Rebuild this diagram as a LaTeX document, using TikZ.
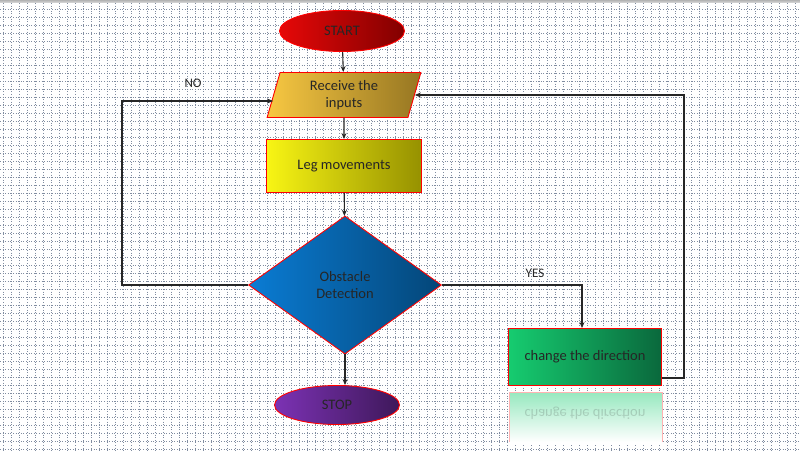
\documentclass[tikz,border=0pt]{standalone}
\usepackage{fontspec}
\setmainfont{Carlito}
\usetikzlibrary{shapes.geometric,arrows.meta}
\definecolor{startL}{RGB}{230,8,8}
\definecolor{startR}{RGB}{130,0,0}
\definecolor{inputL}{RGB}{248,200,66}
\definecolor{inputR}{RGB}{150,118,34}
\definecolor{legL}{RGB}{248,245,20}
\definecolor{legR}{RGB}{150,145,0}
\definecolor{detectL}{RGB}{10,124,212}
\definecolor{detectR}{RGB}{4,70,120}
\definecolor{stopL}{RGB}{124,50,180}
\definecolor{stopR}{RGB}{62,24,90}
\definecolor{changeL}{RGB}{22,204,112}
\definecolor{changeR}{RGB}{10,104,60}
\definecolor{gridcol}{RGB}{128,140,160}

\begin{document}
\begin{tikzpicture}[x=1pt,y=-1pt,
		griddot/.style={draw=gridcol,line width=0.6pt,dash pattern=on 0.8pt off 1.8pt},
		box/.style={draw=red,line width=0.9pt,font=\fontsize{14.5}{17.5}\selectfont,text=black!85,align=center,inner sep=0pt},
		term/.style={box,ellipse,minimum width=125,minimum height=41},
		arr/.style={draw=black!85,line width=1.1pt,-{Stealth[length=6pt,width=5pt]}},
		tag/.style={font=\fontsize{13}{15}\selectfont,text=black!85}]
	\useasboundingbox (0,0) rectangle (800,452);
	\fill[white] (0,0) rectangle (800,452);
	\foreach \x in {3,11,...,795} \draw[griddot] (\x,3) -- (\x,452);
	\foreach \y in {9,17,...,449} \draw[griddot] (0,\y) -- (800,\y);
	\fill[top color=gray!60,bottom color=gray!25] (0,0) rectangle (800,3);

	\node[term,left color=startL,right color=startR] (start) at (342,31) {START};
	\node[box,trapezium,trapezium left angle=77,trapezium right angle=103,trapezium stretches=true,
		minimum width=154,minimum height=45,left color=inputL,right color=inputR] (input) at (344,95) {Receive the\\inputs};
	\node[box,minimum width=155,minimum height=53,left color=legL,right color=legR] (leg) at (344,166) {Leg movements};
	\node[box,diamond,minimum width=193,minimum height=138,left color=detectL,right color=detectR] (detect) at (345,285) {Obstacle\\Detection};
	\node[term,minimum height=39,left color=stopL,right color=stopR] (stop) at (337,405) {STOP};
	\node[box,minimum width=153,minimum height=57,left color=changeL,right color=changeR] (change) at (585,357) {change the direction};

	\fill[top color=changeL!45,bottom color=white] (509,392) rectangle (662,442);
	\draw[red!30,line width=0.8pt] (509,442) -- (509,392) -- (662,392) -- (662,442);
	\node[font=\fontsize{14.5}{17.5}\selectfont,text=black!85,opacity=0.18,yscale=-1] (mirror) at (585,413) {change the direction};

	\draw[arr] (start) -- (input);
	\draw[arr] (input) -- (leg);
	\draw[arr] (leg) -- (detect);
	\draw[arr] (detect.south) -- (detect.south |- stop.north);
	\draw[arr] (detect.east) -| ([xshift=-3pt]change.north);
	\draw[arr] (detect.west) -- (122,285) |- ([yshift=-6pt]input.west);
	\draw[arr] ([yshift=-21pt]change.east) -- ++(22,0) |- (input.east);

	\node[tag] (no) at (193,83) {NO};
	\node[tag] (yes) at (535,273) {YES};
\end{tikzpicture}
\end{document}
